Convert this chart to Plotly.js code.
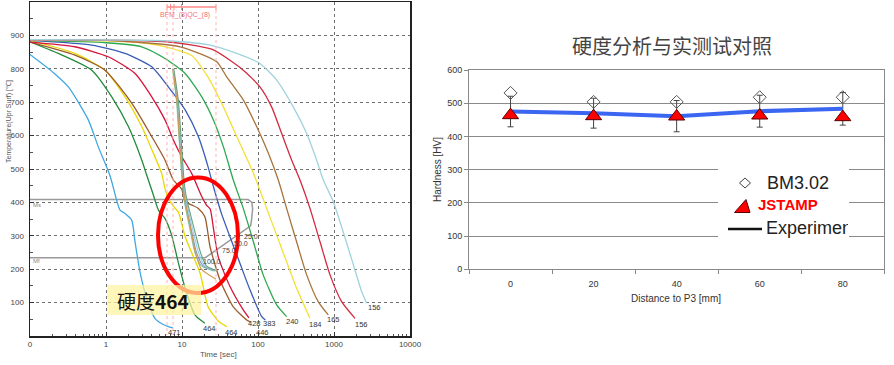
<!DOCTYPE html>
<html><head><meta charset="utf-8">
<script src="https://cdn.plot.ly/plotly-3.0.1.min.js"></script>
<style>html,body{margin:0;padding:0;background:#fff}#chart{width:894px;height:365px}</style>
</head><body><div id="chart"></div>
<script>
// ---------- Left: CCT cooling curves (time [s], temperature [C]) ----------
const timeLightBlue = [0.1, 0.2, 0.32, 0.585, 0.79, 1.13, 1.53, 1.78, 2.18, 2.41, 2.8, 3.43, 4.4, 5.5, 6.6, 7.6];
const tempLightBlue = [843, 790, 746, 647, 567, 480, 377, 367, 347, 282, 192, 113, 53, 36, 28, 24];
const timeDarkGreen = [0.1, 0.236, 0.65, 1.19, 1.97, 2.95, 3.43, 4.2, 4.9, 5.97, 7.3, 8.9, 11, 14.8, 20];
const tempDarkGreen = [881, 846, 796, 716, 627, 527, 482, 422, 377, 352, 302, 222, 143, 63, 38];
const timeYellow1 = [0.1, 0.39, 0.97, 1.78, 2.95, 4.2, 5.4, 5.97, 6.6, 7.6, 9, 11, 17.3, 22, 30, 38.7];
const tempYellow1 = [885, 846, 796, 716, 627, 547, 487, 442, 412, 390, 370, 297, 188, 88, 45, 28];
const timeBrown1 = [0.1, 0.39, 0.97, 2.18, 4, 5.97, 7.7, 9.9, 11, 13.5, 16.4, 20, 23.4, 31.6, 47, 71, 80];
const tempBrown1 = [880, 841, 796, 697, 597, 527, 467, 440, 402, 392, 382, 357, 267, 168, 88, 48, 42];
const timeCrimson1 = [0.1, 0.39, 1.07, 2.41, 4, 5.97, 7.7, 9.9, 13.4, 18, 21, 23.5, 26, 30, 42.8, 64, 76];
const tempCrimson1 = [880, 866, 836, 786, 716, 647, 587, 537, 487, 420, 392, 380, 320, 237, 148, 78, 54];
const timeBlue = [0.1, 0.65, 1.78, 4, 6.6, 11, 16.4, 22, 24.5, 33, 42.8, 58, 78.5, 112, 125];
const tempBlue = [885, 871, 846, 806, 746, 677, 597, 507, 467, 367, 297, 217, 138, 58, 48];
const timeGreen = [0.1, 1, 2.95, 5.97, 11, 18.2, 25.9, 35, 47.3, 64, 87, 117, 176, 238];
const tempGreen = [885, 878, 866, 831, 786, 716, 647, 567, 467, 382, 282, 183, 93, 58];
const timeYellow2 = [0.1, 1, 3, 6, 13.4, 22, 35, 52.5, 87, 130, 176, 238, 322, 483];
const tempYellow2 = [886, 884, 878, 866, 840, 775, 686, 597, 487, 382, 302, 222, 143, 53];
const timeBrown2 = [0.1, 1, 9.4, 28.6, 38.7, 64, 96, 137, 185, 238, 322, 437, 620, 840];
const tempBrown2 = [886, 885, 866, 821, 776, 707, 627, 547, 467, 382, 282, 183, 103, 63];
const timeCrimson2 = [0.1, 6.3, 25, 64, 106, 151, 205, 277, 357, 483, 655, 886, 1260, 1890];
const tempCrimson2 = [887, 881, 858, 796, 746, 686, 606, 527, 467, 382, 282, 183, 103, 53];
const timeLightCyan = [0.1, 6.3, 23.4, 52.5, 106, 176, 291, 437, 590, 724, 980, 1320, 1800, 2310, 2690];
const tempLightCyan = [887, 884, 871, 846, 816, 766, 686, 606, 527, 467, 402, 312, 213, 133, 98];

// simulated points cluster (near-vertical drop at ~10 s)
const clusterTemp  = [800, 700, 550, 450, 400, 320, 250, 210, 195];
const clusterTempLow = [800, 700, 550, 450, 400, 320, 250, 200, 170];
const clusterTimeA = [7.5, 8.5, 9.4, 10.2, 10.8, 12.7, 14.8, 18, 26];
const clusterTimeB = [7.6, 8.7, 9.6, 10.4, 11.2, 13.2, 15.5, 19, 27];
const clusterTimeC = [7.7, 8.8, 9.8, 10.6, 11.5, 13.8, 16.5, 20, 28];
const clusterTimeD = [7.8, 9.0, 10.0, 10.8, 11.8, 14.5, 17.5, 21, 29];
const clusterTimeE = [7.6, 8.6, 9.5, 10.3, 11.0, 13.0, 15.0, 18, 28];

// Ms / Mf lines and martensite fraction line
const msTime = [0.1, 74, 83, 85, 82, 80, 20.1];
const msTemp = [409, 409, 400, 380, 345, 330, 234];
const mfTime = [0.1, 20.1];
const mfTemp = [234, 234];
const fractionLabels = ['25.0', '50.0', '75.0', '100.0'];

// final hardness labels at curve ends
const endHardness = ['471', '464', '464', '428', '383', '446', '240', '184', '165', '156', '156'];

// ---------- Right: hardness comparison ----------
const distance = [0, 20, 40, 60, 80];
const bm302 = [531, 504, 504, 518, 518];
const jstamp = [464, 461, 460, 463, 458];
const experiment = [475, 470, 461, 476, 483];
const experimentErr = [46, 45, 47, 48, 49];

const xTicksLeft = [0.1, 1, 10, 100, 1000, 10000];
const xTickTextLeft = ['0', '1', '10', '100', '1000', '10000'];
const yTicksLeft = [100, 200, 300, 400, 500, 600, 700, 800, 900];

// ---------- build ----------
const W = 894, H = 365;
const px = x => x / W;
const py = y => 1 - y / H;
const FONT = 'Liberation Sans, Arial, sans-serif';
const CJK = 'Noto Sans CJK SC, sans-serif';

const curves = [
  [timeLightBlue, tempLightBlue, '#40a8e0'],
  [timeDarkGreen, tempDarkGreen, '#228b3b'],
  [timeYellow1, tempYellow1, '#e8d800'],
  [timeBrown1, tempBrown1, '#9b5a2b'],
  [timeCrimson1, tempCrimson1, '#d4143c'],
  [timeBlue, tempBlue, '#3a5cb8'],
  [timeGreen, tempGreen, '#2ea84f'],
  [timeYellow2, tempYellow2, '#f2e03a'],
  [timeBrown2, tempBrown2, '#a8743e'],
  [timeCrimson2, tempCrimson2, '#d42a40'],
  [timeLightCyan, tempLightCyan, '#9fd3dc']
];
const clusters = [
  [clusterTimeA, clusterTemp, '#7cc8a8'],
  [clusterTimeB, clusterTemp, '#8a8fb8'],
  [clusterTimeC, clusterTemp, '#90d0e8'],
  [clusterTimeD, clusterTemp, '#6aa07a'],
  [clusterTimeE, clusterTempLow, '#d09a50']
];

const traces = [];
traces.push({type:'scatter', mode:'lines', x: msTime, y: msTemp, xaxis:'x', yaxis:'y',
  line:{color:'#9a9a9a', width:1.5}, hoverinfo:'skip'});
traces.push({type:'scatter', mode:'lines', x: mfTime, y: mfTemp, xaxis:'x', yaxis:'y',
  line:{color:'#9a9a9a', width:1.5}, hoverinfo:'skip'});
curves.forEach(c => traces.push({type:'scatter', mode:'lines', x:c[0], y:c[1], xaxis:'x', yaxis:'y',
  line:{color:c[2], width:1.3, shape:'spline', smoothing:0.6}, hoverinfo:'skip'}));
clusters.forEach(c => traces.push({type:'scatter', mode:'lines', x:c[0], y:c[1], xaxis:'x', yaxis:'y',
  line:{color:c[2], width:1.1, shape:'spline', smoothing:0.6}, hoverinfo:'skip'}));

// right chart
traces.push({type:'scatter', mode:'lines', x: distance, y: experiment, xaxis:'x2', yaxis:'y2',
  line:{color:'#3a66f2', width:4},
  error_y:{type:'data', array: experimentErr, visible:true, color:'#444', thickness:1, width:3},
  hoverinfo:'skip'});
traces.push({type:'scatter', mode:'markers', x: distance, y: bm302, xaxis:'x2', yaxis:'y2',
  marker:{symbol:'diamond-open', size:10, color:'#555', line:{width:1}}, hoverinfo:'skip'});
traces.push({type:'scatter', mode:'markers', x: distance, y: jstamp, xaxis:'x2', yaxis:'y2',
  marker:{symbol:'triangle-up', size:14, color:'#ff0000', line:{color:'#5a0000', width:1}}, hoverinfo:'skip'});
// dummy trace for tick-mark overlay axis
traces.push({type:'scatter', mode:'markers', x:[0], y:[0], xaxis:'x3', yaxis:'y2',
  marker:{opacity:0}, hoverinfo:'skip'});

// minor log ticks
const minorLog = [];
for (let d = -1; d < 4; d++) for (let k = 2; k <= 9; k++) minorLog.push(k * Math.pow(10, d));
const minorY = [];
for (let v = 50; v < 1000; v += 100) minorY.push(v);

const shapes = [];
const ann = [];
function A(x, y, text, font, extra) {
  ann.push(Object.assign({xref:'paper', yref:'paper', x:px(x), y:py(y), text:text, showarrow:false,
    xanchor:'center', yanchor:'middle', font:font}, extra || {}));
}

// pink BFM/QC markers
const pinkX = [167, 173, 216];
pinkX.forEach(x => shapes.push({type:'line', xref:'paper', yref:'paper', x0:px(x), x1:px(x), y0:py(10), y1:py(335),
  line:{color:'#ffb3b3', width:1, dash:'dot'}}));
shapes.push({type:'line', xref:'paper', yref:'paper', x0:px(167), x1:px(216), y0:py(7), y1:py(7), line:{color:'#ff8a8a', width:1.5}});
[167, 170.5, 174, 181.5, 216].forEach(x => shapes.push({type:'line', xref:'paper', yref:'paper',
  x0:px(x), x1:px(x), y0:py(4), y1:py(10), line:{color:'#ff8a8a', width:1}}));
A(185, 15, 'BFM_(8)QC_(8)', {size:7, color:'#f07070', family:FONT});

// red ellipse
shapes.push({type:'circle', xref:'paper', yref:'paper', x0:px(158), x1:px(238), y0:py(293), y1:py(177.5),
  line:{color:'#ff0000', width:4}, layer:'above'});
// yellow highlight
shapes.push({type:'rect', xref:'paper', yref:'paper', x0:px(107), x1:px(201), y0:py(315), y1:py(285),
  fillcolor:'#fff2a0', opacity:0.72, line:{width:0}, layer:'above'});
A(153, 300, '硬度<b>464</b>', {size:19, color:'#111', family:CJK});

// Ms / Mf labels
A(31, 205, 'Ms', {size:6, color:'#888', family:FONT}, {xanchor:'left'});
A(31, 261, 'Mf', {size:6, color:'#888', family:FONT}, {xanchor:'left'});
// fraction labels along diagonal
const fracPx = [[251, 236], [241, 243.5], [229, 251], [212, 261]];
fractionLabels.forEach((t, i) => A(fracPx[i][0], fracPx[i][1], t, {size:7, color:'#444', family:FONT}));
// end hardness labels
const endPx = [[174,332],[209,328],[232,332],[254,323],[269,323],[262,332],[292,321],[315,324],[333,319],[361,324],[374,307]];
endHardness.forEach((t, i) => A(endPx[i][0], endPx[i][1], t, {size:7.5, color:'#333', family:FONT}));
// left axis titles
A(218, 354, 'Time [sec]', {size:8, color:'#555', family:FONT});
A(9, 122, 'Temperature(Upr Surf) [℃]', {size:7, color:'#555', family:FONT}, {textangle:-90});

// right chart title & axis titles
A(672, 45, '硬度分析与实测试对照', {size:20, color:'#444', family:CJK});
A(676, 298, 'Distance to P3 [mm]', {size:10, color:'#333', family:FONT});
A(437, 170, 'Hardness [HV]', {size:10, color:'#333', family:FONT}, {textangle:-90});

// legend box
shapes.push({type:'rect', xref:'paper', yref:'paper', x0:px(718), x1:px(849), y0:py(242), y1:py(164),
  fillcolor:'#ffffff', line:{width:0}, layer:'above'});
shapes.push({type:'path', xref:'paper', yref:'paper', layer:'above',
  path:`M ${px(745)} ${py(178)} L ${px(750.5)} ${py(183)} L ${px(745)} ${py(188)} L ${px(739.5)} ${py(183)} Z`,
  line:{color:'#444', width:1}, fillcolor:'rgba(0,0,0,0)'});
shapes.push({type:'path', xref:'paper', yref:'paper', layer:'above',
  path:`M ${px(734.5)} ${py(212.5)} L ${px(750)} ${py(212.5)} L ${px(746)} ${py(199.5)} Z`,
  line:{color:'#5a0000', width:1}, fillcolor:'#ff0000'});
shapes.push({type:'line', xref:'paper', yref:'paper', layer:'above', x0:px(728), x1:px(762), y0:py(229), y1:py(229),
  line:{color:'#111', width:2.5}});
A(765, 183, 'BM3.02', {size:18, color:'#222', family:FONT}, {xanchor:'left'});
A(756, 204, '<b>JSTAMP</b>', {size:15, color:'#ff0000', family:FONT}, {xanchor:'left'});
A(764, 228, 'Experiment', {size:18, color:'#222', family:FONT}, {xanchor:'left', align:'left', width:82});

const layout = {
  width: W, height: H,
  margin: {l:0, r:0, t:0, b:0},
  paper_bgcolor: '#ffffff', plot_bgcolor: '#ffffff',
  showlegend: false,
  xaxis: {type:'log', range:[-1, 4], domain:[px(30), px(410)], anchor:'y',
    tickmode:'array', tickvals:xTicksLeft, ticktext:xTickTextLeft,
    showgrid:true, gridcolor:'#6f6f6f', griddash:'dot', gridwidth:1,
    showline:true, linecolor:'#222', linewidth:1.5, mirror:true,
    ticks:'inside', ticklen:4, tickcolor:'#333', zeroline:false,
    tickfont:{size:8, color:'#444', family:FONT},
    minor:{tickmode:'array', tickvals:minorLog, ticks:'inside', ticklen:2, tickcolor:'#555', showgrid:false}},
  yaxis: {range:[0, 1000], domain:[py(336), py(2)], anchor:'x',
    tickmode:'array', tickvals:yTicksLeft,
    showgrid:true, gridcolor:'#6f6f6f', griddash:'dot', gridwidth:1,
    showline:true, linecolor:'#222', linewidth:1.5, mirror:true,
    ticks:'inside', ticklen:4, tickcolor:'#333', zeroline:false, ticklabelstandoff:3,
    tickfont:{size:8, color:'#444', family:FONT},
    minor:{tickmode:'array', tickvals:minorY, ticks:'inside', ticklen:3, tickcolor:'#555', showgrid:false}},
  xaxis2: {range:[-10, 90], domain:[px(469), px(884.3)], anchor:'y2',
    tickmode:'array', tickvals:distance, ticks:'', showgrid:false, zeroline:false,
    showline:true, linecolor:'#888', linewidth:1, mirror:true, ticklabelstandoff:6,
    tickfont:{size:9, color:'#333', family:FONT}},
  xaxis3: {range:[-10, 90], domain:[px(469), px(884.3)], anchor:'y2', overlaying:'x2',
    tickmode:'array', tickvals:[-10, 10, 30, 50, 70, 90], ticks:'outside', ticklen:4, tickcolor:'#888',
    showticklabels:false, showgrid:false, zeroline:false, showline:false},
  yaxis2: {range:[0, 600], domain:[py(269.3), py(70)], anchor:'x2',
    tickmode:'linear', tick0:0, dtick:100,
    showgrid:true, gridcolor:'#8a8a8a', gridwidth:1, zeroline:false,
    showline:true, linecolor:'#888', linewidth:1, mirror:true,
    ticks:'outside', ticklen:4, tickcolor:'#888',
    tickfont:{size:9, color:'#333', family:FONT}},
  shapes: shapes,
  annotations: ann
};

Plotly.newPlot('chart', traces, layout, {staticPlot:true, displayModeBar:false});
</script></body></html>
